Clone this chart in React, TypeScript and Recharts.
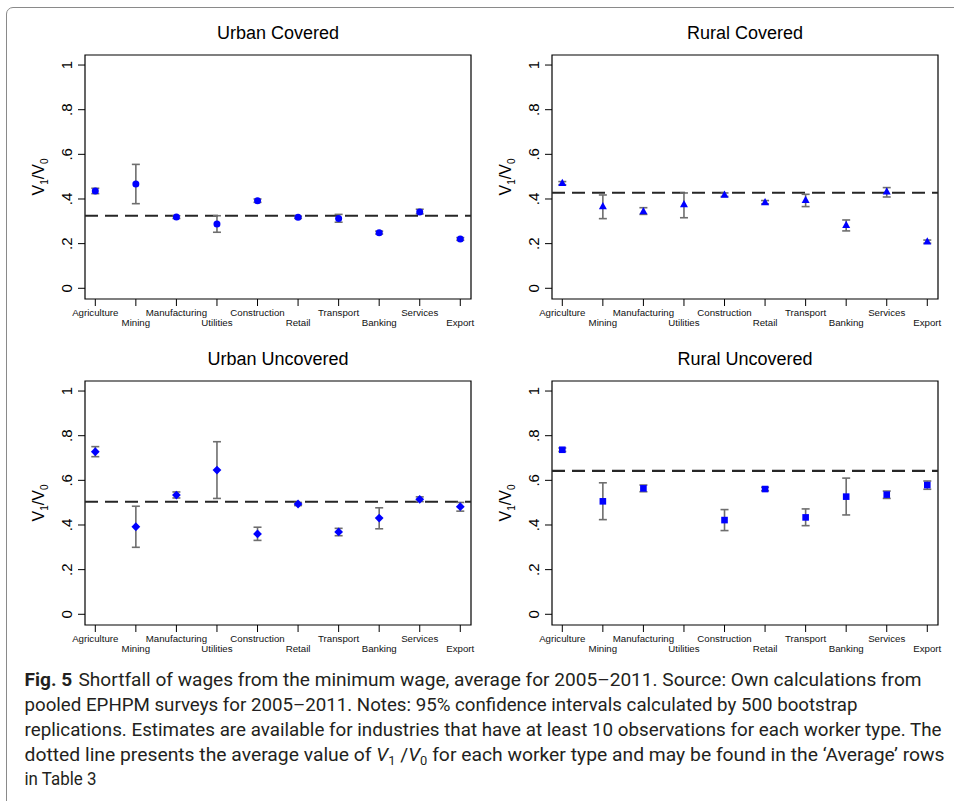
import React from 'react'
import {
  ScatterChart,
  Scatter,
  XAxis,
  YAxis,
  ErrorBar,
  ReferenceLine,
  ReferenceArea,
  Label,
} from 'recharts'

const INDUSTRIES = [
  'Agriculture', 'Mining', 'Manufacturing', 'Utilities', 'Construction',
  'Retail', 'Transport', 'Banking', 'Services', 'Export',
]
const X_TICKS = [0, 1, 2, 3, 4, 5, 6, 7, 8, 9]
const Y_TICKS = [0, 0.2, 0.4, 0.6, 0.8, 1]

// V1/V0 estimates with 95% CI bounds, one entry per industry
const urbanCoveredVal = [0.436, 0.467, 0.319, 0.288, 0.392, 0.318, 0.313, 0.249, 0.342, 0.221]
const urbanCoveredLo = [0.424, 0.379, 0.313, 0.251, 0.385, 0.313, 0.296, 0.243, 0.333, 0.215]
const urbanCoveredHi = [0.448, 0.555, 0.325, 0.325, 0.400, 0.323, 0.331, 0.256, 0.354, 0.227]
const urbanCoveredAvg = 0.325

const ruralCoveredVal = [0.471, 0.367, 0.345, 0.376, 0.419, 0.385, 0.395, 0.283, 0.433, 0.209]
const ruralCoveredLo = [0.464, 0.312, 0.331, 0.316, 0.411, 0.378, 0.366, 0.257, 0.409, 0.202]
const ruralCoveredHi = [0.478, 0.418, 0.361, 0.427, 0.427, 0.393, 0.421, 0.306, 0.451, 0.216]
const ruralCoveredAvg = 0.428

const urbanUncoveredVal = [0.728, 0.392, 0.534, 0.646, 0.360, 0.494, 0.369, 0.431, 0.515, 0.482]
const urbanUncoveredLo = [0.706, 0.300, 0.521, 0.519, 0.331, 0.487, 0.352, 0.383, 0.505, 0.462]
const urbanUncoveredHi = [0.751, 0.484, 0.548, 0.773, 0.390, 0.501, 0.385, 0.477, 0.526, 0.501]
const urbanUncoveredAvg = 0.504

const ruralUncoveredVal = [0.737, 0.506, 0.564, null, 0.422, 0.561, 0.434, 0.527, 0.536, 0.579]
const ruralUncoveredLo = [0.729, 0.424, 0.549, null, 0.375, 0.553, 0.397, 0.445, 0.519, 0.560]
const ruralUncoveredHi = [0.745, 0.589, 0.579, null, 0.469, 0.569, 0.472, 0.610, 0.552, 0.597]
const ruralUncoveredAvg = 0.642

const X_DOMAIN: [number, number] = [-0.254, 9.264]
const Y_DOMAIN: [number, number] = [-0.048, 1.045]

const FONT = "'Liberation Sans', Arial, Helvetica, sans-serif"
const BLUE = '#0000ff'

function buildRows(val: (number | null)[], lo: (number | null)[], hi: (number | null)[]) {
  const rows: { idx: number; v: number; err: [number, number] }[] = []
  val.forEach((v, i) => {
    if (v == null) return
    rows.push({ idx: i, v, err: [v - (lo[i] as number), (hi[i] as number) - v] })
  })
  return rows
}

const Dot = (p: any) => <circle cx={p.cx} cy={p.cy} r={3.5} fill={BLUE} />
const Tri = (p: any) => (
  <polygon
    points={`${p.cx},${p.cy - 4.3} ${p.cx + 4},${p.cy + 2.9} ${p.cx - 4},${p.cy + 2.9}`}
    fill={BLUE}
  />
)
const Diamond = (p: any) => (
  <polygon
    points={`${p.cx},${p.cy - 4.4} ${p.cx + 4.4},${p.cy} ${p.cx},${p.cy + 4.4} ${p.cx - 4.4},${p.cy}`}
    fill={BLUE}
  />
)
const Square = (p: any) => (
  <rect x={p.cx - 3.3} y={p.cy - 3.3} width={6.6} height={6.6} fill={BLUE} />
)

const XTick = (props: any) => {
  const { x, y, payload } = props
  const i = payload.value
  return (
    <text x={x} y={y + (i % 2 ? 20 : 10)} textAnchor="middle" fontSize={9.7} fill="#111" fontFamily={FONT}>
      {INDUSTRIES[i]}
    </text>
  )
}

const YTick = (props: any) => {
  const { x, y, payload } = props
  const v = payload.value
  const s = v === 0 ? '0' : v === 1 ? '1' : String(v).replace(/^0/, '')
  return (
    <text
      transform={`translate(${x - 9},${y}) rotate(-90)`}
      textAnchor="middle"
      dy={5}
      fontSize={15}
      fill="#000"
      fontFamily={FONT}
    >
      {s}
    </text>
  )
}

const YLabel = (props: any) => {
  const vb = props.viewBox
  const cy = vb && vb.height ? vb.y + vb.height / 2 : 177
  return (
    <text transform={`translate(38,${cy}) rotate(-90)`} textAnchor="middle" dy={6} fontSize={16} fill="#000" fontFamily={FONT}>
      V<tspan fontSize={10} dy={4}>1</tspan>
      <tspan dy={-4}>/V</tspan>
      <tspan fontSize={10} dy={4}>0</tspan>
    </text>
  )
}

interface PanelProps {
  title: string
  rows: { idx: number; v: number; err: [number, number] }[]
  avg: number
  shape: (p: any) => React.ReactElement
  left: number
  top: number
}

function Panel({ title, rows, avg, shape, left, top }: PanelProps) {
  return (
    <div style={{ position: 'absolute', left, top, width: 477, height: 340 }}>
      <ScatterChart width={477} height={340} margin={{ top: 55, right: 6, bottom: 6, left: 0 }}>
        <XAxis
          type="number"
          dataKey="idx"
          domain={X_DOMAIN}
          ticks={X_TICKS}
          interval={0}
          allowDataOverflow
          height={35}
          tickSize={7}
          tickMargin={0}
          axisLine={false}
          tickLine={{ stroke: '#000' }}
          tick={<XTick />}
        />
        <YAxis
          type="number"
          dataKey="v"
          domain={Y_DOMAIN}
          ticks={Y_TICKS}
          interval={0}
          allowDataOverflow
          width={85}
          tickSize={7}
          tickMargin={2}
          axisLine={false}
          tickLine={{ stroke: '#000' }}
          tick={<YTick />}
        >
          <Label content={<YLabel />} />
        </YAxis>
        <ReferenceArea
          x1={X_DOMAIN[0]}
          x2={X_DOMAIN[1]}
          y1={Y_DOMAIN[0]}
          y2={Y_DOMAIN[1]}
          fill="none"
          fillOpacity={0}
          stroke="#000"
          strokeWidth={1.2}
        />
        <ReferenceLine y={avg} stroke="#262626" strokeWidth={2.2} strokeDasharray="13 7" />
        <Scatter data={rows} shape={shape} isAnimationActive={false}>
          <ErrorBar dataKey="err" direction="y" width={4} stroke="#6e6e6e" strokeWidth={1.6} isAnimationActive={false} />
        </Scatter>
      </ScatterChart>
      <div
        style={{
          position: 'absolute',
          left: 85,
          width: 386,
          top: 24,
          textAlign: 'center',
          fontSize: 18,
          lineHeight: '18px',
          fontFamily: FONT,
          color: '#000',
        }}
      >
        {title}
      </div>
    </div>
  )
}

const CAPTION_FONT = "'Liberation Sans Narrow', 'Roboto', 'Liberation Sans', sans-serif"

function Caption() {
  const common = { x: 24.5, fontSize: 18, fill: '#231f20', fontFamily: CAPTION_FONT, lengthAdjust: 'spacingAndGlyphs' as const }
  return (
    <svg width={954} height={141} style={{ position: 'absolute', left: 0, top: 660 }}>
      <text {...common} y={26} textLength={897}>
        <tspan fontWeight="bold">Fig. 5</tspan>
        <tspan dx={6}>Shortfall of wages from the minimum wage, average for 2005–2011. Source: Own calculations from</tspan>
      </text>
      <text {...common} y={51} textLength={833}>
        pooled EPHPM surveys for 2005–2011. Notes: 95% confidence intervals calculated by 500 bootstrap
      </text>
      <text {...common} y={76} textLength={917}>
        replications. Estimates are available for industries that have at least 10 observations for each worker type. The
      </text>
      <text {...common} y={101} textLength={920}>
        dotted line presents the average value of <tspan fontStyle="italic">V</tspan>
        <tspan fontSize={12} dy={4}>1</tspan>
        <tspan dy={-4}> /</tspan>
        <tspan fontStyle="italic">V</tspan>
        <tspan fontSize={12} dy={4}>0</tspan>
        <tspan dy={-4}> for each worker type and may be found in the ‘Average’ rows</tspan>
      </text>
      <text {...common} y={125} textLength={72}>
        in Table 3
      </text>
    </svg>
  )
}

export default function App() {
  return (
    <div style={{ position: 'absolute', left: 0, top: 0, width: 954, height: 801, background: '#fff', overflow: 'hidden' }}>
      <div
        style={{
          position: 'absolute',
          left: 6,
          top: 7,
          width: 1000,
          height: 1000,
          border: '1px solid #8a8a8a',
          borderTopLeftRadius: 7,
        }}
      />
      <Panel title="Urban Covered" rows={buildRows(urbanCoveredVal, urbanCoveredLo, urbanCoveredHi)} avg={urbanCoveredAvg} shape={Dot} left={0} top={0} />
      <Panel title="Rural Covered" rows={buildRows(ruralCoveredVal, ruralCoveredLo, ruralCoveredHi)} avg={ruralCoveredAvg} shape={Tri} left={467} top={0} />
      <Panel title="Urban Uncovered" rows={buildRows(urbanUncoveredVal, urbanUncoveredLo, urbanUncoveredHi)} avg={urbanUncoveredAvg} shape={Diamond} left={0} top={326} />
      <Panel title="Rural Uncovered" rows={buildRows(ruralUncoveredVal, ruralUncoveredLo, ruralUncoveredHi)} avg={ruralUncoveredAvg} shape={Square} left={467} top={326} />
      <Caption />
    </div>
  )
}
